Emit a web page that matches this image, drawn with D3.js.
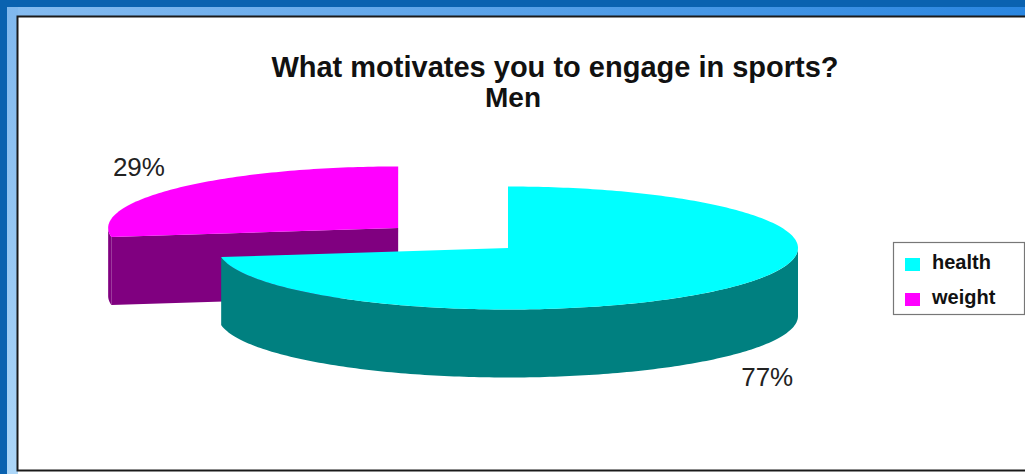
<!DOCTYPE html>
<html>
<head>
<meta charset="utf-8">
<script src="https://cdn.jsdelivr.net/npm/d3@7"></script>
<style>
  html, body { margin: 0; padding: 0; background: #0a62b0; }
  svg { display: block; }
  text { font-family: "Liberation Sans", Arial, Helvetica, sans-serif; }
</style>
</head>
<body>
<svg id="chart" width="1025" height="474"></svg>
<script>
// Survey answers for men
const categories = ["health", "weight"];
const values = [77, 29];
const labels = ["77%", "29%"];
const titleLines = ["What motivates you to engage in sports?", "Men"];

// Palette: top faces and darker side walls
const topColors = ["#00ffff", "#ff00ff"];
const sideColors = ["#008080", "#800080"];

const W = 1025, H = 474;
const svg = d3.select("#chart");

// ---- window frame ----
const defs = svg.append("defs");
const gTop = defs.append("linearGradient").attr("id", "bandTop")
  .attr("x1", 0).attr("y1", 0).attr("x2", 1).attr("y2", 0);
gTop.append("stop").attr("offset", 0).attr("stop-color", "#86bcf0");
gTop.append("stop").attr("offset", 1).attr("stop-color", "#2a86e0");
const gLeft = defs.append("linearGradient").attr("id", "bandLeft")
  .attr("x1", 0).attr("y1", 0).attr("x2", 0).attr("y2", 1);
gLeft.append("stop").attr("offset", 0).attr("stop-color", "#80b8ee");
gLeft.append("stop").attr("offset", 1).attr("stop-color", "#acd6f8");

svg.append("rect").attr("width", W).attr("height", H).attr("fill", "#0a62b0");
svg.append("rect").attr("x", 7).attr("y", 7).attr("width", W - 7).attr("height", 10).attr("fill", "url(#bandTop)");
svg.append("rect").attr("x", 7).attr("y", 7).attr("width", 11).attr("height", H - 7).attr("fill", "url(#bandLeft)");
svg.append("rect").attr("x", 18).attr("y", 17).attr("width", W - 18).attr("height", H - 17).attr("fill", "#ffffff");
svg.append("path")
  .attr("d", `M${W},16.5 H17.5 V470.5 H${W}`)
  .attr("fill", "none").attr("stroke", "#1a1a1a").attr("stroke-width", 2);

// ---- title ----
svg.append("text").attr("x", 555).attr("y", 77)
  .attr("text-anchor", "middle").attr("font-size", 29).attr("font-weight", "bold")
  .attr("fill", "#111").text(titleLines[0]);
svg.append("text").attr("x", 513).attr("y", 107)
  .attr("text-anchor", "middle").attr("font-size", 28).attr("font-weight", "bold")
  .attr("fill", "#111").text(titleLines[1]);

// ---- 3D pie ----
const cx = 508, cy = 248, rx = 290, ry = 61.5, depth = 68;
const explode = [0, 0.5];

const pie = d3.pie().sort(null).value(d => d);
const arcs = pie(values);

const topColor = d3.scaleOrdinal().domain(categories).range(topColors);
const sideColor = d3.scaleOrdinal().domain(categories).range(sideColors);

function rim(c, a, dz = 0) {
  return [c[0] + rx * Math.sin(a), c[1] - ry * Math.cos(a) + dz];
}
function arcPoints(c, a0, a1, dz = 0) {
  const n = Math.max(2, Math.ceil(Math.abs(a1 - a0) / (Math.PI / 180)));
  return d3.range(n + 1).map(i => rim(c, a0 + (a1 - a0) * i / n, dz));
}
const line = d3.line();

const pieG = svg.append("g");
// back slices first so the front slice overlaps them
const order = arcs.map((d, i) => i).sort((a, b) => {
  const ma = (arcs[a].startAngle + arcs[a].endAngle) / 2;
  const mb = (arcs[b].startAngle + arcs[b].endAngle) / 2;
  return Math.cos(mb) - Math.cos(ma);
});

order.forEach(i => {
  const d = arcs[i];
  const mid = (d.startAngle + d.endAngle) / 2;
  const c = [cx + explode[i] * rx * Math.sin(mid), cy - explode[i] * ry * Math.cos(mid)];
  const g = pieG.append("g");
  const cat = categories[i];

  // radial cut faces facing the viewer
  const faces = [];
  if (Math.sin(d.startAngle) < -1e-6) faces.push(d.startAngle);
  if (Math.sin(d.endAngle) > 1e-6) faces.push(d.endAngle);
  faces.forEach(a => {
    const p = rim(c, a);
    g.append("path")
      .attr("d", line([c, p, [p[0], p[1] + depth], [c[0], c[1] + depth]]) + "Z")
      .attr("fill", sideColor(cat));
  });

  // outer wall (front half only)
  const w0 = Math.max(d.startAngle, Math.PI / 2);
  const w1 = Math.min(d.endAngle, 3 * Math.PI / 2);
  if (w1 > w0) {
    const topEdge = arcPoints(c, w0, w1);
    const botEdge = arcPoints(c, w1, w0, depth);
    g.append("path").attr("d", line(topEdge.concat(botEdge)) + "Z")
      .attr("fill", sideColor(cat));
  }

  // top face
  g.append("path")
    .attr("d", line([c].concat(arcPoints(c, d.startAngle, d.endAngle))) + "Z")
    .attr("fill", topColor(cat));

  // percentage label outside the slice
  const lx = c[0] + 1.18 * rx * Math.sin(mid);
  const ly = c[1] - 1.52 * ry * Math.cos(mid) + (Math.cos(mid) < 0 ? depth : 0);
  svg.append("text").attr("x", lx).attr("y", ly)
    .attr("text-anchor", "middle").attr("dominant-baseline", "central")
    .attr("font-size", 26).attr("fill", "#222").text(labels[i]);
});

// ---- legend ----
const leg = svg.append("g");
leg.append("rect").attr("x", 893.5).attr("y", 242.5).attr("width", 131).attr("height", 72)
  .attr("fill", "#fff").attr("stroke", "#777").attr("stroke-width", 1.2);
const ly = d3.scalePoint().domain(categories).range([264, 299]);
categories.forEach((cat, i) => {
  leg.append("rect").attr("x", 905).attr("y", ly(cat) - 6).attr("width", 15).attr("height", 13)
    .attr("fill", topColor(cat));
  leg.append("text").attr("x", 932).attr("y", ly(cat) + 5)
    .attr("font-size", 20).attr("font-weight", "bold").attr("fill", "#111").text(cat);
});
</script>
</body>
</html>
